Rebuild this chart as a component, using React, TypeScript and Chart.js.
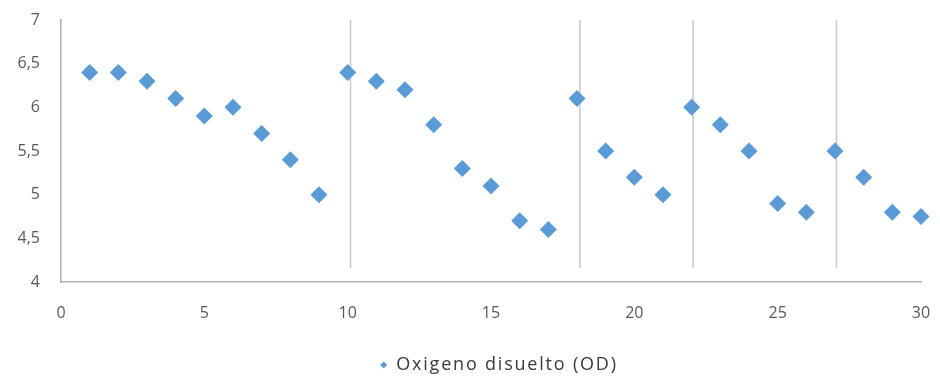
import React, { useEffect, useRef } from "react";
import { Chart, registerables } from "chart.js";

Chart.register(...registerables);

const days = [1, 2, 3, 4, 5, 6, 7, 8, 9, 10, 11, 12, 13, 14, 15, 16, 17, 18, 19, 20, 21, 22, 23, 24, 25, 26, 27, 28, 29, 30];
const odValues = [6.4, 6.4, 6.3, 6.1, 5.9, 6.0, 5.7, 5.4, 5.0, 6.4, 6.3, 6.2, 5.8, 5.3, 5.1, 4.7, 4.6, 6.1, 5.5, 5.2, 5.0, 6.0, 5.8, 5.5, 4.9, 4.8, 5.5, 5.2, 4.8, 4.75];
const seriesLabel = "Oxigeno disuelto (OD)";
const markerX = [10.1, 18.1, 22.05, 27.05];
const markerTop = 7;
const markerBottom = 4.16;
const xMin = 0, xMax = 30, xStep = 5;
const yMin = 4, yMax = 7, yStep = 0.5;

const BLUE = "#5B9BD5";
const FONT = "'Open Sans', 'Liberation Sans', sans-serif";

const legendPlugin = {
  id: "customLegend",
  afterDraw(chart: any) {
    const { ctx, chartArea } = chart;
    ctx.save();
    ctx.font = `18px ${FONT}`;
    (ctx as any).letterSpacing = "1.8px";
    const tw = ctx.measureText(seriesLabel).width;
    const gap = 9;
    const r = 3.5;
    const total = r * 2 + gap + tw;
    const cx = (chartArea.left + chartArea.right) / 2 + 8;
    const y = 365;
    const startX = cx - total / 2;
    ctx.fillStyle = BLUE;
    ctx.beginPath();
    ctx.moveTo(startX, y);
    ctx.lineTo(startX + r, y - r);
    ctx.lineTo(startX + 2 * r, y);
    ctx.lineTo(startX + r, y + r);
    ctx.closePath();
    ctx.fill();
    ctx.fillStyle = "#3a3a3a";
    ctx.textBaseline = "middle";
    ctx.textAlign = "left";
    ctx.fillText(seriesLabel, startX + 2 * r + gap, y);
    ctx.restore();
  },
};

export default function App() {
  const ref = useRef<HTMLCanvasElement | null>(null);
  useEffect(() => {
    if (!ref.current) return;
    const lineSets = markerX.map((x) => ({
      type: "line" as const,
      label: "v" + x,
      data: [
        { x, y: markerTop },
        { x, y: markerBottom },
      ],
      borderColor: "#c8c8c8",
      borderWidth: 1.5,
      pointRadius: 0,
      showLine: true,
      fill: false,
    }));
    const chart = new Chart(ref.current, {
      type: "scatter",
      data: {
        datasets: [
          {
            label: seriesLabel,
            data: days.map((d, i) => ({ x: d, y: odValues[i] })),
            pointStyle: "rectRot",
            pointRadius: 8.5,
            pointBackgroundColor: BLUE,
            pointBorderColor: BLUE,
            pointBorderWidth: 0,
            clip: false,
          } as any,
          ...lineSets,
        ],
      },
      options: {
        responsive: false,
        animation: false,
        events: [],
        layout: { padding: { left: 0, top: 20, right: 19, bottom: 0 } },
        plugins: { legend: { display: false }, tooltip: { enabled: false } },
        scales: {
          x: {
            type: "linear",
            min: xMin,
            max: xMax,
            afterFit(scale: any) {
              scale.height = 96;
              scale.paddingLeft = 0;
              scale.paddingRight = 0;
            },
            ticks: {
              stepSize: xStep,
              padding: 22,
              color: "#595959",
              font: { family: FONT, size: 16 },
            },
            grid: { display: false, drawTicks: false },
            border: { display: true, color: "#b0b0b0", width: 1.5 },
          },
          y: {
            type: "linear",
            min: yMin,
            max: yMax,
            afterFit(scale: any) {
              scale.width = 61;
              scale.paddingTop = 0;
              scale.paddingBottom = 0;
            },
            ticks: {
              stepSize: yStep,
              padding: 21,
              color: "#595959",
              font: { family: FONT, size: 16 },
              callback: (v: any) => String(v).replace(".", ","),
            },
            grid: { display: false, drawTicks: false },
            border: { display: true, color: "#b0b0b0", width: 1.5 },
          },
        },
      },
      plugins: [legendPlugin],
    });
    return () => chart.destroy();
  }, []);
  return (
    <div style={{ position: "fixed", left: 0, top: 0, width: 940, height: 378, background: "#fff" }}>
      <canvas ref={ref} width={940} height={378} style={{ width: 940, height: 378, display: "block" }} />
    </div>
  );
}
